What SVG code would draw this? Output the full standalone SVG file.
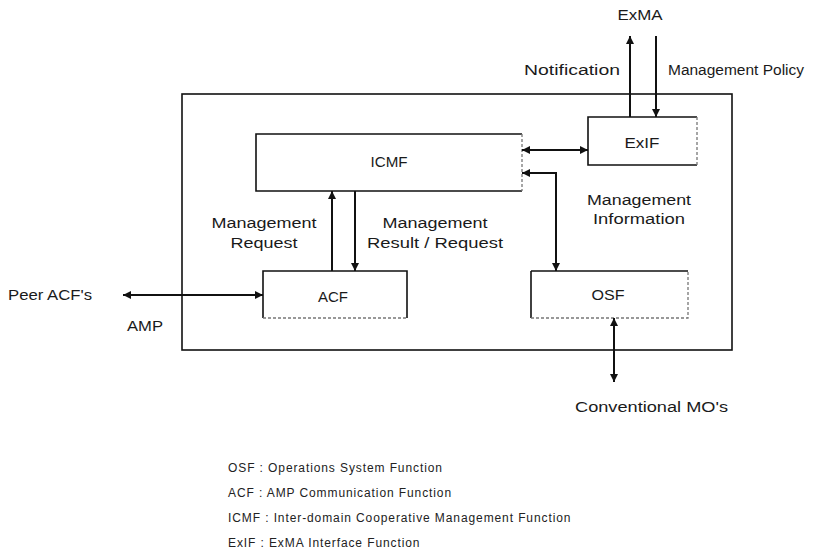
<svg xmlns="http://www.w3.org/2000/svg" width="836" height="557" viewBox="0 0 836 557">
  <style>
    .lbl { font-family: "Liberation Sans", Arial, sans-serif; font-size: 14px; fill: #1a1a1a; }
    .leg { font-family: "Liberation Sans", Arial, sans-serif; font-size: 12px; fill: #222; letter-spacing: 0.9px; }
    .edge { fill: none; stroke: #111; stroke-width: 1.6; }
    .soft { fill: none; stroke: #777; stroke-width: 1.3; stroke-dasharray: 3 2; }
    .wire { fill: none; stroke: #111; stroke-width: 2; }
  </style>
  <defs>
    <marker id="ah" viewBox="0 0 10 10" refX="10" refY="5" markerWidth="9" markerHeight="8" markerUnits="userSpaceOnUse" orient="auto-start-reverse">
      <path d="M0,0 L10,5 L0,10 z" fill="#111"/>
    </marker>
  </defs>

  <rect width="836" height="557" fill="#ffffff"/>

  <!-- enclosing system boundary -->
  <g id="system">
    <rect x="182" y="94" width="550" height="256" class="edge" stroke-width="1.4"/>
  </g>

  <!-- function blocks -->
  <g id="icmf">
    <path d="M522,134 H256 V191 H522" class="edge"/>
    <path d="M522,134 V191" class="soft" stroke-dasharray="2 1"/>
    <text x="389" y="167" class="lbl" text-anchor="middle" textLength="37" lengthAdjust="spacingAndGlyphs">ICMF</text>
  </g>

  <g id="exif">
    <path d="M697,117 H588 V165 H697" class="edge"/>
    <path d="M697,117 V165" class="soft" stroke-dasharray="2 1"/>
    <text x="642" y="148" class="lbl" text-anchor="middle" textLength="35" lengthAdjust="spacingAndGlyphs">ExIF</text>
  </g>

  <g id="acf">
    <path d="M263,318 V271 H407 V318" class="edge"/>
    <path d="M263,318 H407" class="soft"/>
    <text x="333" y="302" class="lbl" text-anchor="middle" textLength="30" lengthAdjust="spacingAndGlyphs">ACF</text>
  </g>

  <g id="osf">
    <path d="M531,271 H688" class="edge"/>
    <path d="M531,271 V318" class="edge" stroke-width="1" stroke="#555"/>
    <path d="M531,318 H688 V271" class="soft"/>
    <text x="608" y="300" class="lbl" text-anchor="middle" textLength="33" lengthAdjust="spacingAndGlyphs">OSF</text>
  </g>

  <!-- connectors -->
  <g id="connectors">
    <line x1="630" y1="117" x2="630" y2="36" class="wire" marker-end="url(#ah)"/>
    <line x1="656" y1="36" x2="656" y2="117" class="wire" marker-end="url(#ah)"/>
    <line x1="522" y1="150" x2="588" y2="150" class="wire" marker-start="url(#ah)" marker-end="url(#ah)"/>
    <path d="M522,173 H556 V271" class="wire" marker-start="url(#ah)" marker-end="url(#ah)"/>
    <line x1="332" y1="271" x2="332" y2="191" class="wire" marker-end="url(#ah)"/>
    <line x1="355" y1="191" x2="355" y2="271" class="wire" marker-end="url(#ah)"/>
    <line x1="123" y1="295" x2="263" y2="295" class="wire" stroke-width="1.6" marker-start="url(#ah)" marker-end="url(#ah)"/>
    <line x1="614" y1="318" x2="614" y2="382" class="wire" marker-start="url(#ah)" marker-end="url(#ah)"/>
  </g>

  <!-- connector and endpoint labels -->
  <g id="labels">
    <text x="640" y="20" class="lbl" text-anchor="middle" textLength="45" lengthAdjust="spacingAndGlyphs">ExMA</text>
    <text x="524" y="75" class="lbl" textLength="96" lengthAdjust="spacingAndGlyphs">Notification</text>
    <text x="668" y="75" class="lbl" textLength="136" lengthAdjust="spacingAndGlyphs">Management Policy</text>
    <text x="264" y="228" class="lbl" text-anchor="middle" textLength="105" lengthAdjust="spacingAndGlyphs">Management</text>
    <text x="264" y="248" class="lbl" text-anchor="middle" textLength="67" lengthAdjust="spacingAndGlyphs">Request</text>
    <text x="435" y="228" class="lbl" text-anchor="middle" textLength="105" lengthAdjust="spacingAndGlyphs">Management</text>
    <text x="435" y="248" class="lbl" text-anchor="middle" textLength="136" lengthAdjust="spacingAndGlyphs">Result / Request</text>
    <text x="639" y="205" class="lbl" text-anchor="middle" textLength="104" lengthAdjust="spacingAndGlyphs">Management</text>
    <text x="639" y="224" class="lbl" text-anchor="middle" textLength="92" lengthAdjust="spacingAndGlyphs">Information</text>
    <text x="8" y="300" class="lbl" textLength="84" lengthAdjust="spacingAndGlyphs">Peer ACF's</text>
    <text x="127" y="331" class="lbl" textLength="36" lengthAdjust="spacingAndGlyphs">AMP</text>
    <text x="575" y="412" class="lbl" textLength="153" lengthAdjust="spacingAndGlyphs">Conventional MO's</text>
  </g>

  <!-- abbreviation legend -->
  <g id="legend">
    <text x="228" y="472" class="leg">OSF : Operations System Function</text>
    <text x="228" y="497" class="leg">ACF : AMP Communication Function</text>
    <text x="228" y="522" class="leg">ICMF : Inter-domain Cooperative Management Function</text>
    <text x="228" y="547" class="leg">ExIF : ExMA Interface Function</text>
  </g>
</svg>
